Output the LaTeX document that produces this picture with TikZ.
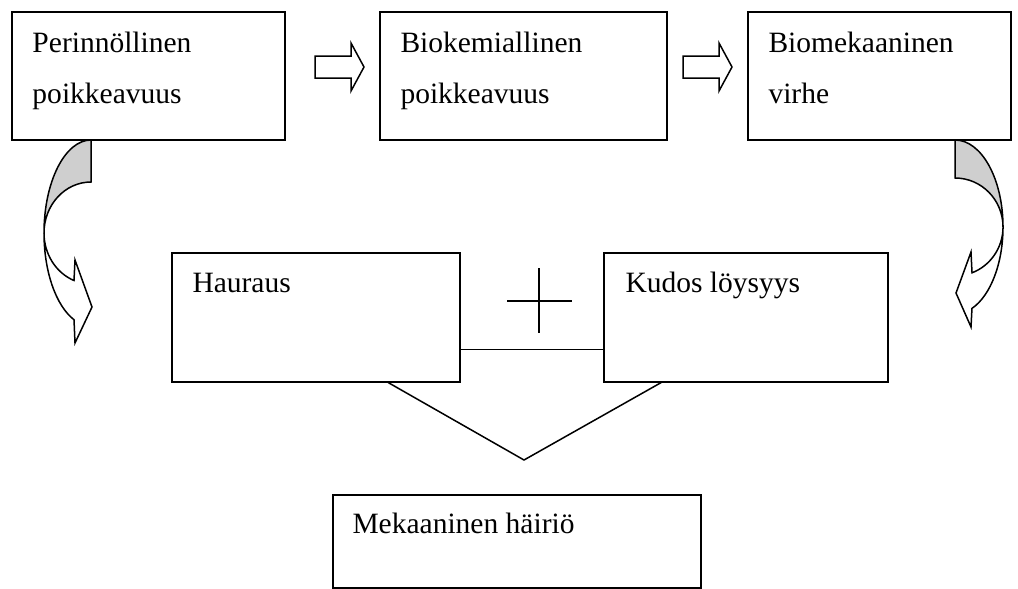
\documentclass[tikz,border=0pt]{standalone}
\usepackage{fontspec}
\setmainfont{Liberation Serif}
\usepackage{tikz}
\usetikzlibrary{calc}
\usetikzlibrary{positioning}

\begin{document}
\begin{tikzpicture}[x=0.4pt, y=-0.4pt]

% Define styles
\tikzset{
    stagebox/.style={draw, line width=0.6pt, rectangle, anchor=north west, inner sep=0pt, minimum height=#1},
    stagebox/.default=51.2pt,
    stagetext/.style={anchor=base west, inner sep=0pt, font=\fontsize{11.8pt}{20.4pt}\selectfont},
    hollow/.style={draw, line width=0.6pt, fill=white, line join=miter},
    ribbonback/.style={draw, line width=0.6pt, fill=black!19},
    joinline/.style={line width=0.6pt}
}

\useasboundingbox (0,0) rectangle (1018,588);

% top row
\node[stagebox, minimum width=109.2pt] (gene) at (11,11) {};
\node[stagebox, minimum width=114.8pt] (bioch) at (379,11) {};
\node[stagebox, minimum width=105.2pt] (biomek) at (747,11) {};

\node[stagetext] (genetxt) at ($(gene.north west)+(21,41)$) {\parbox[t]{90pt}{Perinnöllinen\\poikkeavuus}};
\node[stagetext] (biochtxt) at ($(bioch.north west)+(21,41)$) {\parbox[t]{90pt}{Biokemiallinen\\poikkeavuus}};
\node[stagetext] (biomektxt) at ($(biomek.north west)+(21,41)$) {\parbox[t]{90pt}{Biomekaaninen\\virhe}};

% middle row
\node[stagebox=51.6pt, minimum width=115.2pt] (haur) at (171,252) {};
\node[stagebox=51.6pt, minimum width=113.6pt] (kudos) at (603,252) {};

\node[stagetext] (haurtxt) at ($(haur.north west)+(21,40)$) {Hauraus};
\node[stagetext] (kudostxt) at ($(kudos.north west)+(22,40)$) {Kudos löysyys};

% bottom box
\node[stagebox=37.2pt, minimum width=147.2pt] (hairio) at (332,494) {};
\node[stagetext] (hairiotxt) at ($(hairio.north west)+(20,39)$) {Mekaaninen häiriö};

% block arrows between the top boxes
\foreach \x in {315,683}
  \draw[hollow] (\x,56) -- ++(36,0) -- ++(0,-13) -- ++(13,24) -- ++(-13,24) -- ++(0,-13) -- ++(-36,0) -- cycle;

% plus sign and join line
\coordinate (plus) at (539,301);
\draw[joinline] ($(plus)+(-32,0)$) -- ++(65,0);
\draw[joinline] ($(plus)+(0,-33)$) -- ++(0,65);
\draw[joinline] ([yshift=13.2pt]haur.south east) -- ([yshift=13.2pt]kudos.south west);

% lines down to the bottom box
\coordinate (vtip) at (524,460);
\draw[joinline] ($(haur.south west)!0.75!(haur.south east)$) -- (vtip) -- ($(kudos.south west)!0.204!(kudos.south east)$);

% left curved arrow
\draw[ribbonback] (91,140) arc[start angle=-90, end angle=-180, x radius=47, y radius=93]
    arc[start angle=180, end angle=270, x radius=47, y radius=51] -- cycle;
\draw[hollow] (44,233) arc[start angle=-180, end angle=-248.8, x radius=47, y radius=93]
    -- (75,343) -- (92,307) -- (75,260) -- (74,280.5)
    arc[start angle=111.2, end angle=180, x radius=47, y radius=51] -- cycle;

% right curved arrow
\draw[ribbonback] (955,140) arc[start angle=-90, end angle=0, x radius=48, y radius=87]
    arc[start angle=0, end angle=-90, x radius=48, y radius=49] -- cycle;
\draw[hollow] (1003,227) arc[start angle=0, end angle=69.3, x radius=48, y radius=87]
    -- (971,327) -- (956,293) -- (971,252) -- (972,272.8)
    arc[start angle=69.3, end angle=0, x radius=48, y radius=49] -- cycle;

\end{tikzpicture}
\end{document}
